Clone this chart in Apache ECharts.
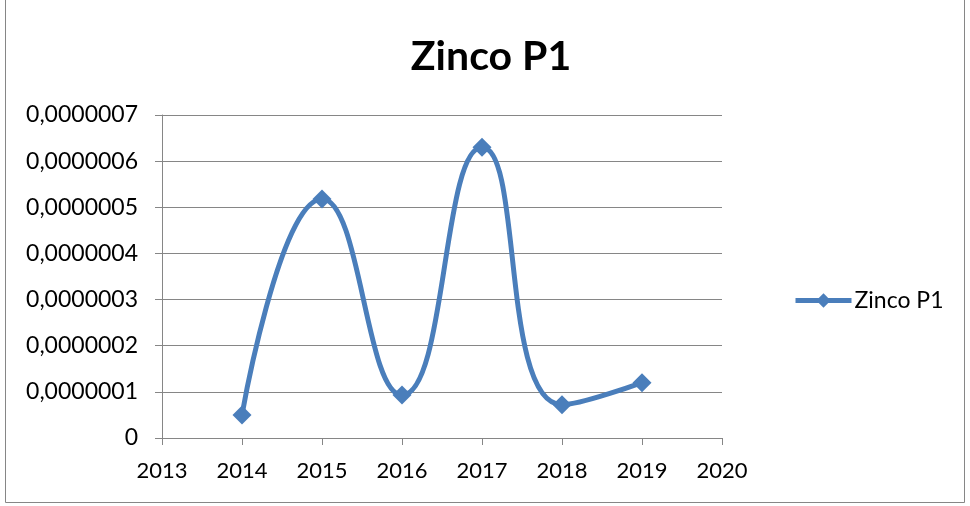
<!DOCTYPE html>
<html>
<head>
<meta charset="utf-8">
<script src="https://cdn.jsdelivr.net/npm/echarts@6/dist/echarts.min.js"></script>
<style>
  html, body { margin: 0; padding: 0; background: #fff; }
  #chart { width: 970px; height: 506px; }
</style>
</head>
<body>
<div id="chart"></div>
<script>
const years = [2014, 2015, 2016, 2017, 2018, 2019]
const zinco = [0.00000005, 0.000000518, 0.000000093, 0.00000063, 0.000000072, 0.00000012]
const yTicks = [0, 0.0000001, 0.0000002, 0.0000003, 0.0000004, 0.0000005, 0.0000006, 0.0000007]

const font = 'Lato, "Open Sans", sans-serif'
const gray = '#868686'
const blue = '#4a7ebb'

function formatY(value) {
  if (value === 0) {
    return '0'
  }
  return value.toFixed(7).replace('.', ',')
}

const chart = echarts.init(document.getElementById('chart'))

chart.setOption({
  animation: false,
  graphic: [
    {
      type: 'rect',
      shape: { x: 5.5, y: -1, width: 959, height: 503.5 },
      style: { fill: 'none', stroke: gray, lineWidth: 1 },
      silent: true
    }
  ],
  title: {
    text: 'Zinco P1',
    left: 486,
    top: 31,
    textAlign: 'center',
    textStyle: { fontFamily: font, fontSize: 41, fontWeight: 'bold', color: '#000' }
  },
  legend: {
    left: 788,
    top: 284,
    itemWidth: 56,
    itemHeight: 18,
    itemGap: 4,
    lineStyle: { width: 5 },
    textStyle: { fontFamily: font, fontSize: 23, color: '#000', padding: [0, 0, 0, -2] },
    data: ['Zinco P1']
  },
  grid: {
    left: 162,
    right: 248,
    top: 115,
    bottom: 68,
    containLabel: false
  },
  xAxis: {
    type: 'value',
    min: 2013,
    max: 2020,
    interval: 1,
    axisLine: { show: true, lineStyle: { color: gray, width: 1 } },
    axisTick: { show: true, length: 7, lineStyle: { color: gray } },
    splitLine: { show: false },
    axisLabel: {
      fontFamily: font,
      fontSize: 22,
      color: '#000',
      margin: 22,
      formatter: v => String(v)
    }
  },
  yAxis: {
    type: 'value',
    min: 0,
    max: yTicks[yTicks.length - 1],
    interval: 0.0000001,
    axisLine: { show: true, lineStyle: { color: gray, width: 1 } },
    axisTick: { show: true, length: 7, lineStyle: { color: gray } },
    splitLine: { show: true, lineStyle: { color: gray, width: 1 } },
    axisLabel: {
      fontFamily: font,
      fontSize: 23,
      color: '#000',
      margin: 24,
      formatter: formatY
    }
  },
  series: [
    {
      name: 'Zinco P1',
      type: 'line',
      smooth: 0.5,
      symbol: 'diamond',
      symbolSize: 19,
      lineStyle: { width: 5, color: blue },
      itemStyle: { color: blue },
      data: years.map((y, i) => [y, zinco[i]])
    }
  ]
})
</script>
</body>
</html>
